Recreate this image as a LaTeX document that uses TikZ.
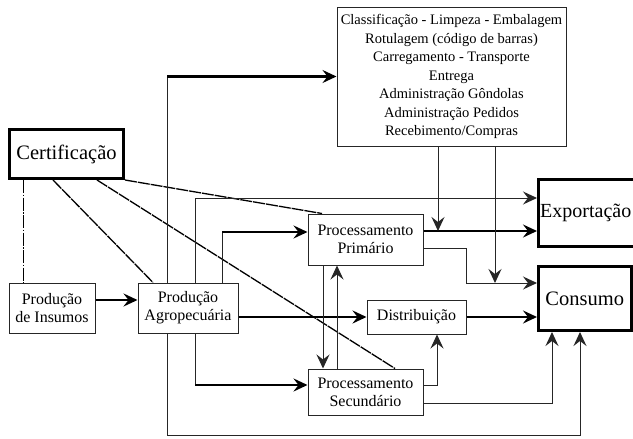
\documentclass[tikz,border=0pt]{standalone}
\usepackage{fontspec}
\setmainfont{Liberation Serif}
\usetikzlibrary{arrows.meta}
\begin{document}
\begin{tikzpicture}[x=1pt,y=-1pt,
  box/.style={draw=black!85,line width=1pt,inner sep=0pt,align=center,font=\fontsize{16}{18}\selectfont},
  bigbox/.style={draw=black,line width=3pt,inner sep=0pt,align=center,font=\fontsize{20.5}{24}\selectfont},
  thinl/.style={draw=black!85,line width=1pt},
  thickl/.style={draw=black,line width=2.2pt},
  arr/.style={-{Stealth[length=14pt,width=13pt,inset=5pt]}},
  certl/.style={draw=black,line width=1.3pt,dash pattern=on 12pt off 1pt},
  certdd/.style={draw=black,line width=1pt,dash pattern=on 13pt off 1.5pt on 1.5pt off 1.5pt}]
\useasboundingbox (0,0) rectangle (633,439);
\fill[white] (0,0) rectangle (633,439);
% nodes
\node[bigbox,minimum width=114pt,minimum height=49pt] (cert) at (66.5,154) {Certificação};
\node[box,minimum width=229pt,minimum height=139pt,font=\fontsize{14.5}{18.5}\selectfont] (top) at (451.5,76.5)
  {Classificação - Limpeza - Embalagem\\Rotulagem (código de barras)\\Carregamento - Transporte\\Entrega\\Administração Gôndolas\\Administração Pedidos\\Recebimento/Compras};
\node[box,minimum width=86pt,minimum height=50pt] (ins) at (52,308) {Produção\\de Insumos};
\node[box,minimum width=100pt,minimum height=50pt] (agro) at (188,308) {Produção\\Agropecuária};
\node[box,minimum width=115pt,minimum height=51pt] (pp) at (365.5,239.5) {Processamento\\Primário};
\node[box,minimum width=99pt,minimum height=34pt] (dist) at (416.5,317) {Distribuição};
\node[box,minimum width=115pt,minimum height=46pt] (ps) at (365.5,392) {Processamento\\Secundário};
\node[bigbox,minimum width=104pt,minimum height=67pt] (exp) at (590.5,213) {};
\node[anchor=west,font=\fontsize{20}{24}\selectfont,inner sep=0pt] (expt) at (540,213) {Exportação};
\node[bigbox,minimum width=92.5pt,minimum height=64pt] (cons) at (584.75,298.5) {Consumo};
% certification lines
\draw[certdd] (cert.south -| 23,0) -- (ins.north -| 23,0);
\draw[certl] (cert.south -| 53,0) -- (agro.north -| 153,0);
\draw[certl] (cert.south -| 97,0) -- (ps.north -| 395,0);
\draw[certl] (cert.south east) -- (pp.north -| 322,0);
% top box feed
\draw[thinl] (agro.north -| 167,0) -- (167,0 |- top.west);
\draw[thickl,arr] (167,0 |- top.west) -- (top.west);
% agro outputs
\draw[thinl,arr] (agro.north -| 195,0) |- (exp.west |- 0,198);
\draw[thinl] (agro.north -| 222,0) -- (222,232);
\draw[thickl,arr] (222,232) -- (pp.west |- 0,232);
\draw[thickl,arr] (agro.east |- dist.west) -- (dist.west);
\draw[thinl] (agro.south -| 195,0) -- (195,385);
\draw[thickl,arr] (195,385) -- (ps.west |- 0,385);
\draw[thinl,arr] (agro.south -| 167,0) -- (167,435) -| (cons.south -| 580,0);
\draw[thickl,arr] (ins.east |- 0,300) -- (agro.west |- 0,300);
% processing
\draw[thickl,arr] (pp.east |- 0,231) -- (exp.west |- 0,231);
\draw[thinl,arr] (top.south -| 438,0) -- (438,231);
\draw[thinl,arr] (top.south -| 495,0) -- (495,283);
\draw[thinl,arr] (pp.east |- 0,248) -| (466,283) -- (cons.west |- 0,283);
\draw[thickl,arr] (dist.east) -- (cons.west |- dist.east);
\draw[thinl,arr] (ps.east |- 0,385) -| (dist.south -| 437,0);
\draw[thinl,arr] (ps.east |- 0,403) -| (cons.south -| 552,0);
\draw[thinl,arr] (pp.south -| 323,0) -- (ps.north -| 323,0);
\draw[thinl,arr] (ps.north -| 337,0) -- (pp.south -| 337,0);
\end{tikzpicture}
\end{document}
